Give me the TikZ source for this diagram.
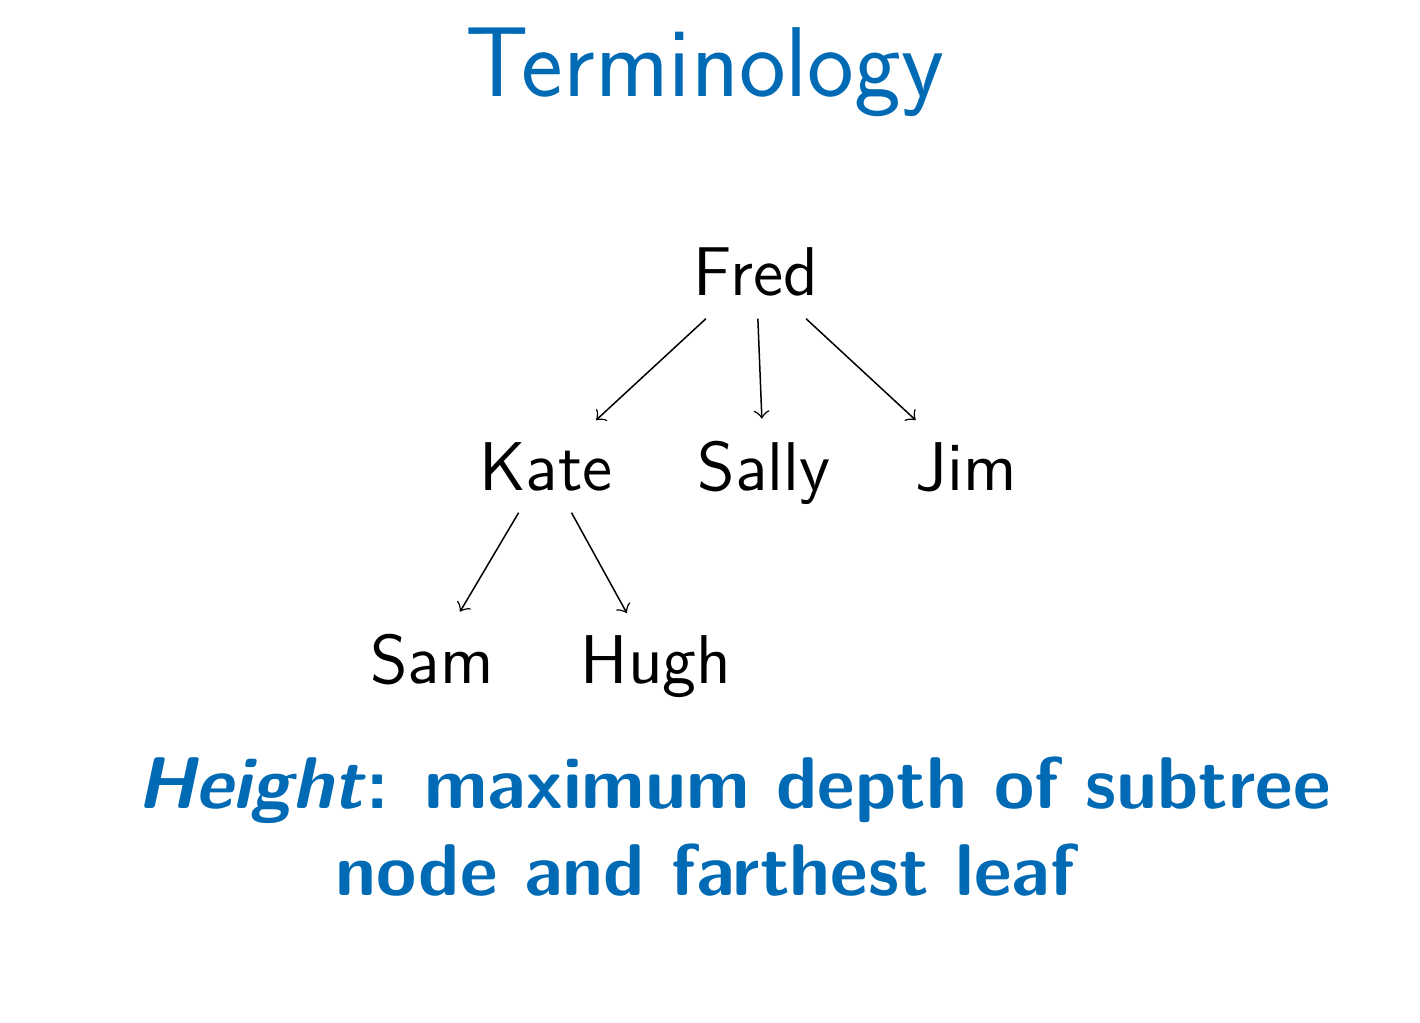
\documentclass[tikz,border=0pt]{standalone}
\usepackage{fontspec}
\setsansfont{Latin Modern Sans}
\definecolor{slideblue}{RGB}{0,106,180}
\begin{document}
\begin{tikzpicture}[x=0.2pt,y=-0.2pt,
  person/.style={font=\sffamily\fontsize{13.8}{17}\selectfont, inner sep=4.2pt, anchor=base},
  link/.style={->, line width=0.3pt},
  bluetext/.style={font=\sffamily\bfseries\fontsize{14.65}{17}\selectfont, text=slideblue, inner sep=0pt, anchor=base}]
\useasboundingbox (0,0) rectangle (1420,1022);
\node[font=\sffamily\fontsize{19.85}{24}\selectfont, text=slideblue, inner sep=0pt, anchor=base] (title) at (705,97) {Terminology};
\node[person] (fred) at (756,296) {Fred};
\node[person] (kate) at (546,490) {Kate};
\node[person] (sally) at (764,490) {Sally};
\node[person] (jim) at (966,490) {Jim};
\node[person] (sam) at (432,683) {Sam};
\node[person] (hugh) at (656,683) {Hugh};
\draw[link] (fred) -- (kate);
\draw[link] (fred) -- (sally);
\draw[link] (fred) -- (jim);
\draw[link] (kate) -- (sam);
\draw[link] (kate) -- (hugh);
\node[bluetext] (line1) at (734,808) {\textit{Height}: maximum depth of subtree};
\node[bluetext] (line2) at (705,895) {node and farthest leaf};
\end{tikzpicture}
\end{document}
